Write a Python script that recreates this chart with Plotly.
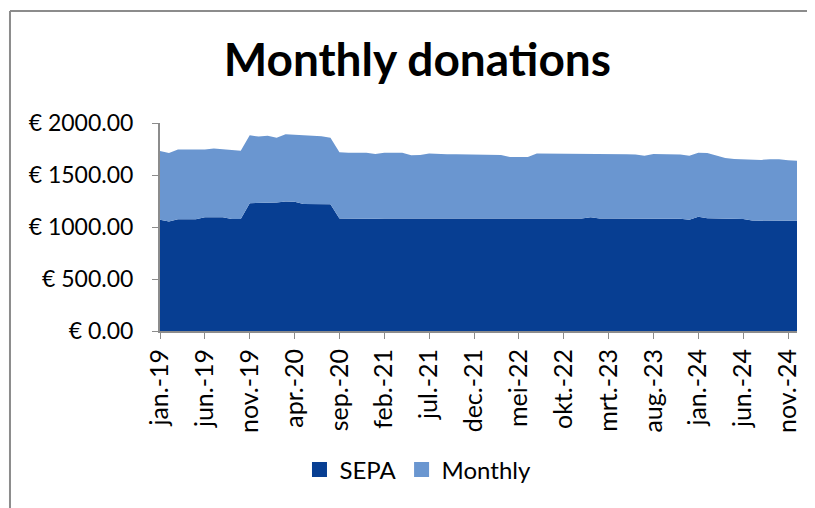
import plotly.graph_objects as go

month_names = ["jan.", "feb.", "mrt.", "apr.", "mei", "jun.", "jul.", "aug.", "sep.", "okt.", "nov.", "dec."]
years = ["19", "20", "21", "22", "23", "24"]
categories = [f"{m}-{y}" for y in years for m in month_names]

sepa = [1069, 1053, 1075, 1075, 1075, 1094, 1094, 1094, 1078, 1078,
        1229, 1229, 1229, 1235, 1245, 1242, 1222, 1219, 1219, 1219,
        1082, 1080, 1080, 1080, 1080, 1082, 1082, 1082, 1082, 1082,
        1085, 1085, 1082, 1082, 1082, 1082, 1082, 1082, 1082, 1082,
        1082, 1082, 1082, 1082, 1082, 1082, 1082, 1082, 1094, 1082,
        1082, 1082, 1082, 1082, 1082, 1082, 1082, 1082, 1080, 1069,
        1098, 1085, 1085, 1085, 1082, 1078, 1062, 1062, 1062, 1062,
        1060, 1059]

monthly = [662, 659, 669, 669, 669, 650, 660, 653, 656, 656,
           653, 640, 649, 624, 646, 646, 656, 659, 653, 640,
           636, 635, 635, 635, 622, 633, 633, 633, 608, 611,
           621, 614, 617, 617, 617, 615, 614, 614, 611, 592,
           595, 592, 624, 624, 620, 624, 624, 620, 612, 624,
           624, 620, 617, 614, 604, 620, 620, 617, 616, 617,
           617, 627, 605, 579, 572, 573, 580, 583, 589, 589,
           582, 579]

y_ticks = [0, 500, 1000, 1500, 2000]
y_tick_text = [f"€ {v:.2f}" for v in y_ticks]
x_tick_labels = categories[::5]

FONT = "Lato"
C_SEPA = "#073E92"
C_MONTHLY = "#6A96D0"
BORDER = "#8C8C8C"

fig = go.Figure()
fig.add_trace(go.Scatter(
    x=categories, y=sepa, name="SEPA", mode="lines",
    line=dict(width=0, color=C_SEPA), fillcolor=C_SEPA,
    stackgroup="one", showlegend=False,
))
fig.add_trace(go.Scatter(
    x=categories, y=monthly, name="Monthly", mode="lines",
    line=dict(width=0, color=C_MONTHLY), fillcolor=C_MONTHLY,
    stackgroup="one", showlegend=False,
))
# legend entries with square swatches
for name, col in [("SEPA", C_SEPA), ("Monthly", C_MONTHLY)]:
    fig.add_trace(go.Scatter(
        x=[None], y=[None], name=name, mode="markers",
        marker=dict(symbol="square", size=15, color=col),
        showlegend=True,
    ))

fig.update_layout(
    width=807, height=500,
    margin=dict(l=152, r=18, t=115, b=177),
    paper_bgcolor="white", plot_bgcolor="white",
    font=dict(family=FONT, color="black"),
    title=dict(text="<b>Monthly donations</b>", x=0.404, xref="paper",
               xanchor="center", yref="container", y=0.896, yanchor="middle",
               font=dict(family=FONT, size=46, color="black")),
    showlegend=True,
    legend=dict(orientation="h", x=0.405, xanchor="center", y=-0.668,
                yanchor="middle", font=dict(family=FONT, size=24),
                traceorder="normal", itemwidth=30),
    xaxis=dict(type="category", range=[0, 71], tickmode="array",
               tickvals=x_tick_labels, ticktext=x_tick_labels,
               tickangle=-90, ticks="outside", ticklen=6, tickcolor=BORDER,
               showline=True, linecolor=BORDER, linewidth=2,
               showgrid=False, tickfont=dict(family=FONT, size=25),
               zeroline=False),
    yaxis=dict(range=[0, 2000], tickmode="array", tickvals=y_ticks,
               ticktext=y_tick_text, ticks="outside", ticklen=6,
               tickcolor=BORDER, showline=True, linecolor=BORDER,
               linewidth=2, showgrid=True, gridcolor="#A6A6A6", gridwidth=2,
               tickfont=dict(family=FONT, size=23), zeroline=False,
               ticklabelstandoff=14),
    shapes=[
        dict(type="line", xref="paper", yref="paper",
             x0=-0.2355, x1=-0.2355, y0=-1.2, y1=1.538,
             line=dict(color=BORDER, width=2), layer="below"),
        dict(type="line", xref="paper", yref="paper",
             x0=-0.2355, x1=1.2, y0=1.538, y1=1.538,
             line=dict(color=BORDER, width=2), layer="below"),
    ],
)

fig.write_html("out.html")
